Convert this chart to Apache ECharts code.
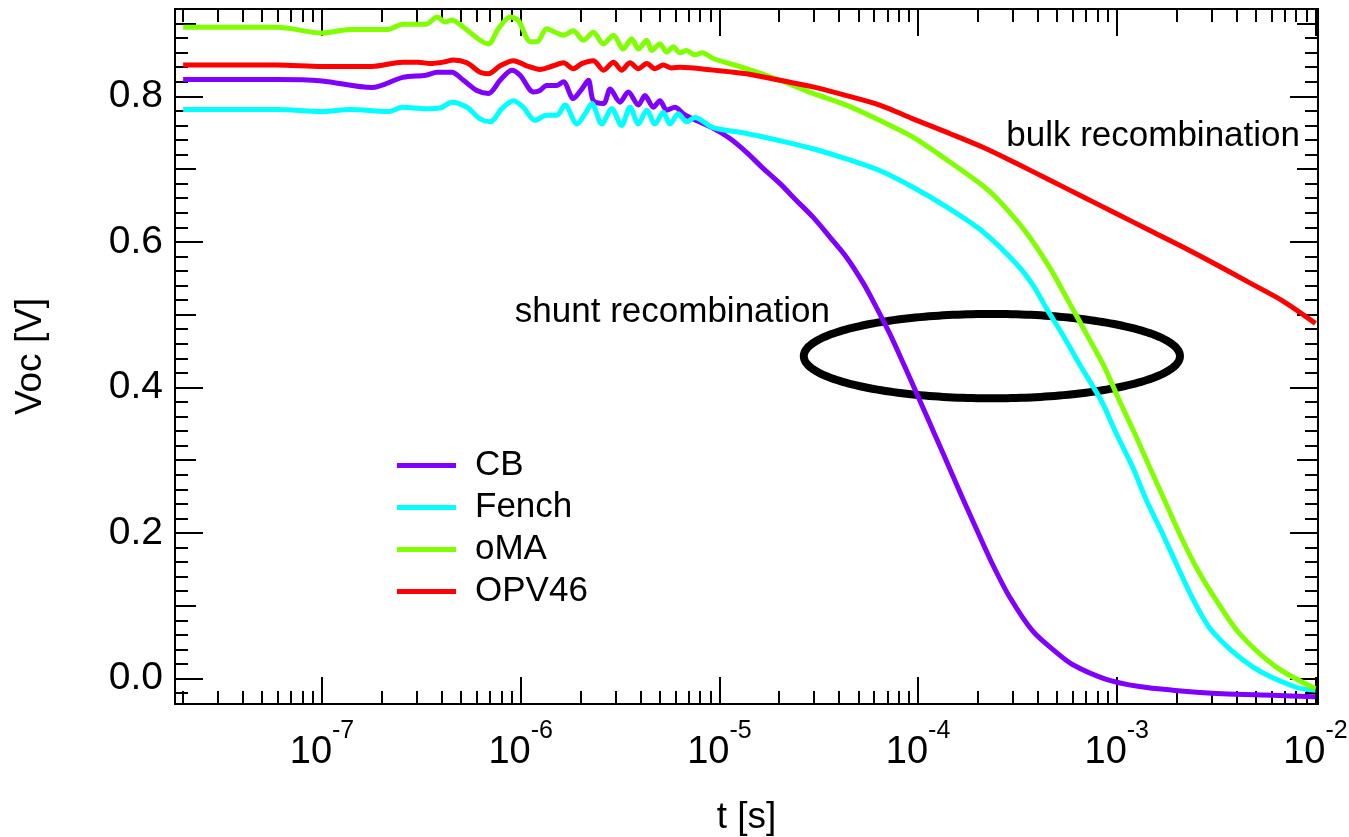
<!DOCTYPE html>
<html>
<head>
<meta charset="utf-8">
<script src="https://cdn.jsdelivr.net/npm/echarts@6/dist/echarts.min.js"></script>
<style>
  html, body { margin: 0; padding: 0; background: #fff; }
  #chart { width: 1349px; height: 837px; }
</style>
</head>
<body>
<div id="chart"></div>
<script>
// Open-circuit voltage transients, Voc [V] versus time t [s]
const seriesNames = ['CB', 'Fench', 'oMA', 'OPV46'];
const seriesColors = ['#8000ff', '#00ffff', '#80ff00', '#ff0000'];

const cbData = [
  [2.0e-8, 0.823], [5.94e-8, 0.823], [1.0e-7, 0.821], [1.78e-7, 0.812], [2.55e-7, 0.826],
  [3.33e-7, 0.829], [3.80e-7, 0.833], [4.50e-7, 0.833], [5.15e-7, 0.822], [6.02e-7, 0.808],
  [6.88e-7, 0.804], [7.88e-7, 0.822], [9.02e-7, 0.836], [9.93e-7, 0.829], [1.16e-6, 0.806],
  [1.25e-6, 0.808], [1.35e-6, 0.815], [1.52e-6, 0.815], [1.64e-6, 0.820], [1.84e-6, 0.797],
  [2.03e-6, 0.810], [2.19e-6, 0.822], [2.32e-6, 0.794], [2.61e-6, 0.790], [2.82e-6, 0.810],
  [3.16e-6, 0.792], [3.48e-6, 0.806], [3.91e-6, 0.788], [4.22e-6, 0.801], [4.65e-6, 0.785],
  [5.02e-6, 0.794], [5.43e-6, 0.781], [5.98e-6, 0.785], [6.58e-6, 0.776], [7.11e-6, 0.771],
  [9.31e-6, 0.756], [1.13e-5, 0.742], [1.37e-5, 0.723], [1.66e-5, 0.701], [2.02e-5, 0.680],
  [2.44e-5, 0.657], [2.96e-5, 0.634], [3.59e-5, 0.607], [4.36e-5, 0.579], [5.28e-5, 0.544],
  [5.93e-5, 0.519], [7.20e-5, 0.474], [8.56e-5, 0.429], [1.04e-4, 0.377], [1.21e-4, 0.336],
  [1.44e-4, 0.289], [1.68e-4, 0.247], [2.0e-4, 0.201], [2.38e-4, 0.156], [2.89e-4, 0.112],
  [3.78e-4, 0.065], [4.96e-4, 0.036], [6.01e-4, 0.019], [8.85e-4, -0.001], [1.30e-3, -0.011],
  [1.91e-3, -0.016], [3.40e-3, -0.021], [6.07e-3, -0.023], [1.0e-2, -0.025]
];

const fenchData = [
  [2.0e-8, 0.782], [5.94e-8, 0.782], [1.0e-7, 0.779], [1.39e-7, 0.782], [2.15e-7, 0.779],
  [2.55e-7, 0.785], [3.33e-7, 0.783], [3.93e-7, 0.784], [4.50e-7, 0.792], [5.36e-7, 0.785],
  [6.25e-7, 0.769], [7.02e-7, 0.765], [8.04e-7, 0.783], [9.19e-7, 0.794], [1.03e-6, 0.785],
  [1.18e-6, 0.767], [1.35e-6, 0.774], [1.52e-6, 0.774], [1.67e-6, 0.788], [1.92e-6, 0.762],
  [2.11e-6, 0.776], [2.28e-6, 0.790], [2.56e-6, 0.762], [2.87e-6, 0.783], [3.22e-6, 0.760],
  [3.55e-6, 0.785], [3.91e-6, 0.762], [4.31e-6, 0.781], [4.74e-6, 0.762], [5.22e-6, 0.778],
  [5.64e-6, 0.762], [6.21e-6, 0.776], [6.84e-6, 0.765], [7.53e-6, 0.771], [9.31e-6, 0.757],
  [1.37e-5, 0.749], [2.02e-5, 0.739], [2.96e-5, 0.728], [4.36e-5, 0.714], [6.41e-5, 0.698],
  [9.43e-5, 0.675], [1.39e-4, 0.648], [2.12e-4, 0.614], [3.12e-4, 0.570], [3.78e-4, 0.541],
  [4.42e-4, 0.509], [5.35e-4, 0.472], [6.62e-4, 0.428], [8.35e-4, 0.382], [9.93e-4, 0.337],
  [1.20e-3, 0.291], [1.41e-3, 0.245], [1.70e-3, 0.199], [2.03e-3, 0.153], [2.41e-3, 0.110],
  [3.04e-3, 0.064], [4.83e-3, 0.016], [7.98e-3, -0.012], [1.0e-2, -0.016]
];

const omaData = [
  [2.0e-8, 0.895], [5.94e-8, 0.895], [1.0e-7, 0.887], [1.39e-7, 0.892], [2.15e-7, 0.892],
  [2.55e-7, 0.899], [3.33e-7, 0.899], [3.80e-7, 0.909], [4.17e-7, 0.902], [4.50e-7, 0.905],
  [5.15e-7, 0.895], [6.25e-7, 0.877], [6.88e-7, 0.872], [7.73e-7, 0.893], [8.85e-7, 0.909],
  [9.74e-7, 0.904], [1.12e-6, 0.875], [1.21e-6, 0.875], [1.35e-6, 0.893], [1.49e-6, 0.888],
  [1.64e-6, 0.884], [1.84e-6, 0.890], [2.07e-6, 0.877], [2.32e-6, 0.888], [2.61e-6, 0.872],
  [2.93e-6, 0.884], [3.28e-6, 0.865], [3.62e-6, 0.879], [3.91e-6, 0.865], [4.31e-6, 0.877],
  [4.56e-6, 0.863], [5.02e-6, 0.872], [5.43e-6, 0.861], [5.86e-6, 0.868], [6.33e-6, 0.860],
  [6.84e-6, 0.863], [7.53e-6, 0.857], [8.20e-6, 0.860], [9.31e-6, 0.852], [1.37e-5, 0.838],
  [2.02e-5, 0.822], [2.96e-5, 0.804], [4.36e-5, 0.788], [6.41e-5, 0.767], [9.43e-5, 0.744],
  [1.39e-4, 0.713], [2.12e-4, 0.677], [2.57e-4, 0.656], [3.50e-4, 0.613], [4.59e-4, 0.565],
  [5.67e-4, 0.520], [7.02e-4, 0.474], [8.67e-4, 0.428], [1.03e-3, 0.382], [1.23e-3, 0.337],
  [1.46e-3, 0.291], [1.74e-3, 0.245], [2.07e-3, 0.199], [2.51e-3, 0.153], [3.16e-3, 0.108],
  [4.14e-3, 0.062], [6.33e-3, 0.016], [1.0e-2, -0.014]
];

const opv46Data = [
  [2.0e-8, 0.843], [5.94e-8, 0.843], [1.0e-7, 0.841], [1.78e-7, 0.841], [2.55e-7, 0.847],
  [3.05e-7, 0.847], [3.50e-7, 0.845], [4.09e-7, 0.847], [4.59e-7, 0.850], [5.36e-7, 0.846],
  [6.25e-7, 0.833], [6.88e-7, 0.831], [7.88e-7, 0.842], [9.19e-7, 0.849], [1.07e-6, 0.842],
  [1.25e-6, 0.837], [1.46e-6, 0.842], [1.64e-6, 0.846], [1.84e-6, 0.838], [2.03e-6, 0.845],
  [2.32e-6, 0.849], [2.61e-6, 0.836], [2.93e-6, 0.847], [3.22e-6, 0.836], [3.55e-6, 0.846],
  [3.91e-6, 0.838], [4.31e-6, 0.845], [4.74e-6, 0.838], [5.22e-6, 0.843], [5.75e-6, 0.839],
  [6.33e-6, 0.840], [9.31e-6, 0.836], [1.37e-5, 0.831], [2.02e-5, 0.822], [2.96e-5, 0.813],
  [4.36e-5, 0.801], [6.41e-5, 0.788], [9.43e-5, 0.769], [1.44e-4, 0.749], [2.12e-4, 0.730],
  [3.12e-4, 0.708], [4.59e-4, 0.685], [6.75e-4, 0.662], [9.93e-4, 0.639], [1.46e-3, 0.616],
  [2.15e-3, 0.593], [3.16e-3, 0.569], [4.65e-3, 0.544], [6.83e-3, 0.519], [1.0e-2, 0.488]
];

// Ellipse outlining the shunt-recombination region: [tLeft, tRight, vBottom, vTop]
const shuntRegion = [[2.66e-5, 2.08e-3, 0.385, 0.501]];

// Axis ranges and tick values
const T_MIN = 1.82e-8, T_MAX = 1.03e-2;
const V_MIN = -0.035, V_MAX = 0.92;
const majorTimeTicks = [1e-7, 1e-6, 1e-5, 1e-4, 1e-3, 1e-2];
const minorTimeTicks = [];
for (let e = -8; e <= -3; e++) {
  for (let m = 2; m <= 9; m++) minorTimeTicks.push(Number(m + 'e' + e));
}
const majorVoltTicks = [0, 0.2, 0.4, 0.6, 0.8];
const midVoltTicks = [0.1, 0.3, 0.5, 0.7, 0.9];
const minorVoltTicks = [];
for (let k = -1; k <= 45; k++) if (k % 5 !== 0) minorVoltTicks.push(k / 50);

const FONT = '"Liberation Sans", Arial, Helvetica, sans-serif';
const black = '#000';

function timeAxis(position, ticks, len, labels) {
  const ax = {
    type: 'log', logBase: 10, min: T_MIN, max: T_MAX, position: position,
    axisLine: { show: true, onZero: false, lineStyle: { color: black, width: 2 } },
    axisTick: { show: true, inside: true, length: len, customValues: ticks,
                lineStyle: { color: black, width: 2 } },
    minorTick: { show: false },
    splitLine: { show: false },
    axisLabel: { show: false }
  };
  if (labels) {
    ax.axisLabel = {
      show: true, customValues: majorTimeTicks, margin: 15,
      formatter: function (v) {
        return '{a|10}{b|' + Math.round(Math.log10(v)) + '}';
      },
      rich: {
        a: { fontSize: 38, fontFamily: FONT, color: black, padding: [15, 0, 0, 0] },
        b: { fontSize: 25, fontFamily: FONT, color: black, verticalAlign: 'top' }
      }
    };
    ax.name = 't [s]';
    ax.nameLocation = 'middle';
    ax.nameGap = 95;
    ax.nameTextStyle = { fontSize: 37, fontFamily: FONT, color: black };
  }
  return ax;
}

function voltAxis(position, ticks, len, labels) {
  const ax = {
    type: 'value', min: V_MIN, max: V_MAX, position: position,
    axisLine: { show: true, onZero: false, lineStyle: { color: black, width: 2 } },
    axisTick: { show: true, inside: true, length: len, customValues: ticks,
                lineStyle: { color: black, width: 2 } },
    minorTick: { show: false },
    splitLine: { show: false },
    axisLabel: { show: false }
  };
  if (labels) {
    ax.axisLabel = {
      show: true, customValues: majorVoltTicks, margin: 12,
      fontSize: 39, fontFamily: FONT, color: black,
      formatter: function (v) { return Number(v).toFixed(1); }
    };
    ax.name = 'Voc [V]';
    ax.nameLocation = 'middle';
    ax.nameRotate = 90;
    ax.nameGap = 126;
    ax.nameTextStyle = { fontSize: 37, fontFamily: FONT, color: black };
  }
  return ax;
}

const lineSeries = [cbData, fenchData, omaData, opv46Data].map(function (d, i) {
  return {
    name: seriesNames[i], type: 'line', data: d,
    xAxisIndex: 0, yAxisIndex: 0,
    showSymbol: false, symbol: 'none', smooth: 0.3,
    color: seriesColors[i],
    itemStyle: { color: seriesColors[i] },
    lineStyle: { color: seriesColors[i], width: 5 },
    z: 3 + i
  };
});

const ellipseSeries = {
  type: 'custom', xAxisIndex: 0, yAxisIndex: 0, z: 2,
  data: shuntRegion,
  encode: { x: [0, 1], y: [2, 3] },
  renderItem: function (params, api) {
    const a = api.coord([api.value(0), api.value(3)]);
    const b = api.coord([api.value(1), api.value(2)]);
    const cx = (a[0] + b[0]) / 2, cy = (a[1] + b[1]) / 2;
    const rx = Math.abs(b[0] - a[0]) / 2, ry = Math.abs(b[1] - a[1]) / 2;
    const pts = [];
    for (let i = 0; i < 240; i++) {
      const th = i / 240 * Math.PI * 2;
      pts.push([cx + rx * Math.cos(th), cy + ry * Math.sin(th)]);
    }
    return {
      type: 'polygon', shape: { points: pts },
      style: { fill: 'none', stroke: black, lineWidth: 8 }
    };
  }
};

const chart = echarts.init(document.getElementById('chart'), null, { renderer: 'canvas' });
chart.setOption({
  animation: false,
  backgroundColor: '#fff',
  textStyle: { fontFamily: FONT },
  color: seriesColors,
  grid: { left: 175, right: 31, top: 9, bottom: 133, containLabel: false, outerBoundsMode: 'none' },
  xAxis: [
    timeAxis('bottom', majorTimeTicks, 27, true),
    timeAxis('bottom', minorTimeTicks, 13, false),
    timeAxis('top', majorTimeTicks, 27, false),
    timeAxis('top', minorTimeTicks, 13, false)
  ],
  yAxis: [
    voltAxis('left', majorVoltTicks, 28, true),
    voltAxis('left', midVoltTicks, 21, false),
    voltAxis('left', minorVoltTicks, 13, false),
    voltAxis('right', majorVoltTicks, 28, false),
    voltAxis('right', midVoltTicks, 21, false),
    voltAxis('right', minorVoltTicks, 13, false)
  ],
  legend: {
    data: seriesNames, orient: 'vertical', left: 397, top: 448,
    icon: 'rect', itemWidth: 59, itemHeight: 5, itemGap: 7, padding: 0,
    selectedMode: false,
    textStyle: { fontSize: 35, fontFamily: FONT, color: black, lineHeight: 33, padding: [0, 0, 0, 14] }
  },
  graphic: [
    { type: 'text', x: 1300, y: 136, z: 10,
      style: { text: 'bulk recombination', fontSize: 35, fontFamily: FONT, fill: black,
               align: 'right', verticalAlign: 'middle' } },
    { type: 'text', x: 830, y: 312, z: 10,
      style: { text: 'shunt recombination', fontSize: 35, fontFamily: FONT, fill: black,
               align: 'right', verticalAlign: 'middle' } }
  ],
  series: [ellipseSeries].concat(lineSeries)
});
</script>
</body>
</html>
